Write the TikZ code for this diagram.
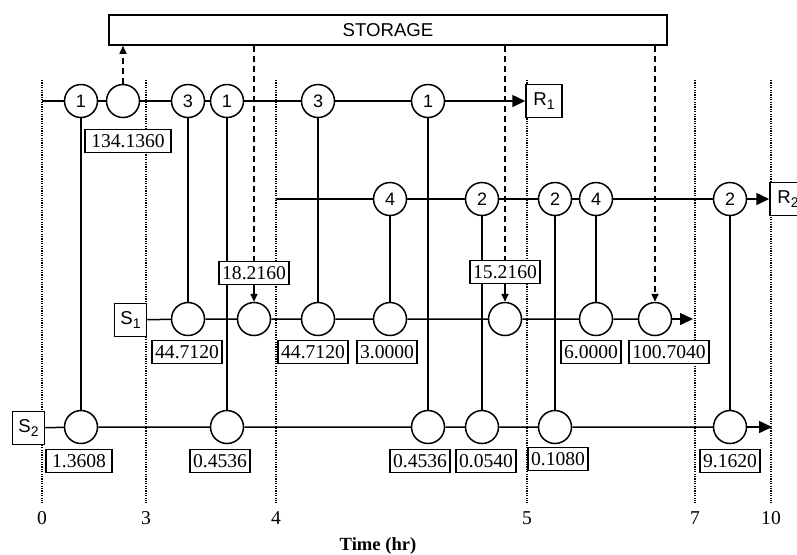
\documentclass[tikz,border=0pt]{standalone}
\usepackage{amsmath}
\usepackage{fontspec}
\setmainfont{Liberation Serif}
\setsansfont{Liberation Sans}
\usetikzlibrary{arrows.meta}

\newcommand{\subidx}[1]{\raisebox{-2.2pt}{\fontsize{7}{8}\selectfont #1}}

\tikzset{
  op/.style={circle, draw, fill=white, line width=0.75pt, minimum size=16.5pt,
    inner sep=0pt, font=\sffamily\fontsize{9}{10}\selectfont},
  valbox/.style={draw, fill=white, line width=0.9pt, inner xsep=1.7pt, inner ysep=0pt,
    minimum height=11.5pt, font=\fontsize{9.8}{11}\selectfont},
  endbox/.style={draw, fill=white, line width=0.75pt, minimum width=16pt,
    minimum height=16.5pt, inner sep=1pt, font=\sffamily\fontsize{9.3}{10}\selectfont},
  flow/.style={line width=0.75pt},
  transfer/.style={line width=0.75pt, dash pattern=on 3pt off 2pt},
  timeline/.style={line width=0.75pt, dash pattern=on 0.6pt off 0.6pt},
}

\begin{document}
\begin{tikzpicture}[x=0.5pt, y=-0.5pt, >={Triangle[length=6.5pt,width=6pt]}]
\useasboundingbox (0,0) rectangle (797,554);

% Time grid
\foreach \x/\t in {42/0,146/3,276/4,527/5,695/7,771/10} {
  \draw[timeline] (\x,80) -- (\x,503);
  \node[font=\fontsize{9.8}{11}\selectfont] at (\x,518) {\t};
}
\node[font=\bfseries\fontsize{9.3}{11}\selectfont] (time) at (378,546) {Time (hr)};

% Storage
\node[draw, line width=0.75pt, minimum width=279pt, minimum height=15pt,
  font=\sffamily\fontsize{9.3}{10}\selectfont] (storage) at (388,30) {STORAGE};

% Top row
\coordinate (t0) at (42,101);
\node[op] (t1) at (81,101) {1};
\node[op] (t2) at (123,101) {};
\node[op] (t3) at (188,101) {3};
\node[op] (t4) at (227,101) {1};
\node[op] (t5) at (318,101) {3};
\node[op] (t6) at (428,101) {1};
\node[endbox, minimum width=18pt] (R1) at (544,101) {R\subidx{1}};

% Second row
\coordinate (m0) at (276,199);
\node[op] (m1) at (390,199) {4};
\node[op] (m2) at (482,199) {2};
\node[op] (m3) at (555,199) {2};
\node[op] (m4) at (596,199) {4};
\node[op] (m5) at (730,199) {2};
\node[endbox, minimum width=18pt] (R2) at (788,199) {R\subidx{2}};

% S1 row
\node[endbox] (S1) at (130.5,320) {S\subidx{1}};
\node[op] (a1) at (188,319) {};
\node[op] (a2) at (254,319) {};
\node[op] (a3) at (318,319) {};
\node[op] (a4) at (390,319) {};
\node[op] (a5) at (505,319) {};
\node[op] (a6) at (596,319) {};
\node[op] (a7) at (655,319) {};
\coordinate (s1end) at (693,319);

% S2 row
\node[endbox] (S2) at (28.5,428) {S\subidx{2}};
\node[op] (b1) at (81,427) {};
\node[op] (b2) at (227,427) {};
\node[op] (b3) at (428,427) {};
\node[op] (b4) at (482,427) {};
\node[op] (b5) at (555,427) {};
\node[op] (b6) at (730,427) {};
\coordinate (s2end) at (772,427);

% Horizontal flows
\draw[flow] (t0) -- (t1) -- (t2) -- (t3) -- (t4) -- (t5) -- (t6);
\draw[flow,->] (t6) -- (R1);
\draw[flow] (m0) -- (m1) -- (m2) -- (m3) -- (m4) -- (m5);
\draw[flow,->] (m5) -- (R2);
\draw[flow] (S1) -- (a1) -- (a2) -- (a3) -- (a4) -- (a5) -- (a6) -- (a7);
\draw[flow,->] (a7) -- (s1end);
\draw[flow] (S2) -- (b1) -- (b2) -- (b3) -- (b4) -- (b5) -- (b6);
\draw[flow,->] (b6) -- (s2end);

% Vertical links
\foreach \u/\v in {t1/b1,t3/a1,t4/b2,t5/a3,t6/b3,m1/a4,m2/b4,m3/b5,m4/a6,m5/b6}
  \draw[flow] (\u) -- (\v);

% Amounts
\node[valbox, inner xsep=3pt] (v0) at (128,141) {134.1360};
\node[valbox] (q1) at (254,273) {18.2160};
\node[valbox] (q2) at (505,272) {15.2160};
\node[valbox] (l1) at (187,352) {44.7120};
\node[valbox] (l2) at (313,352) {44.7120};
\node[valbox] (l3) at (387,352) {3.0000};
\node[valbox] (l4) at (591,352) {6.0000};
\node[valbox] (l5) at (669,352) {100.7040};
\node[valbox, inner xsep=3pt] (n1) at (79,461) {1.3608};
\node[valbox] (n2) at (220,461) {0.4536};
\node[valbox] (n3) at (420,461) {0.4536};
\node[valbox] (n4) at (486,461) {0.0540};
\node[valbox] (n5) at (558,459) {0.1080};
\node[valbox] (n6) at (730,461) {9.1620};

% Storage transfers
\draw[transfer,-{Triangle[length=4pt,width=3.5pt]}] (t2) -- (t2 |- storage.south);
\draw[transfer] (storage.south -| q1) -- (q1.north);
\draw[flow,-{Triangle[length=4pt,width=3.5pt]}] (q1) -- (a2);
\draw[transfer] (storage.south -| q2) -- (q2.north);
\draw[flow,-{Triangle[length=4pt,width=3.5pt]}] (q2) -- (a5);
\draw[transfer,-{Triangle[length=4pt,width=3.5pt]}] (storage.south -| a7) -- (a7);

\end{tikzpicture}
\end{document}
